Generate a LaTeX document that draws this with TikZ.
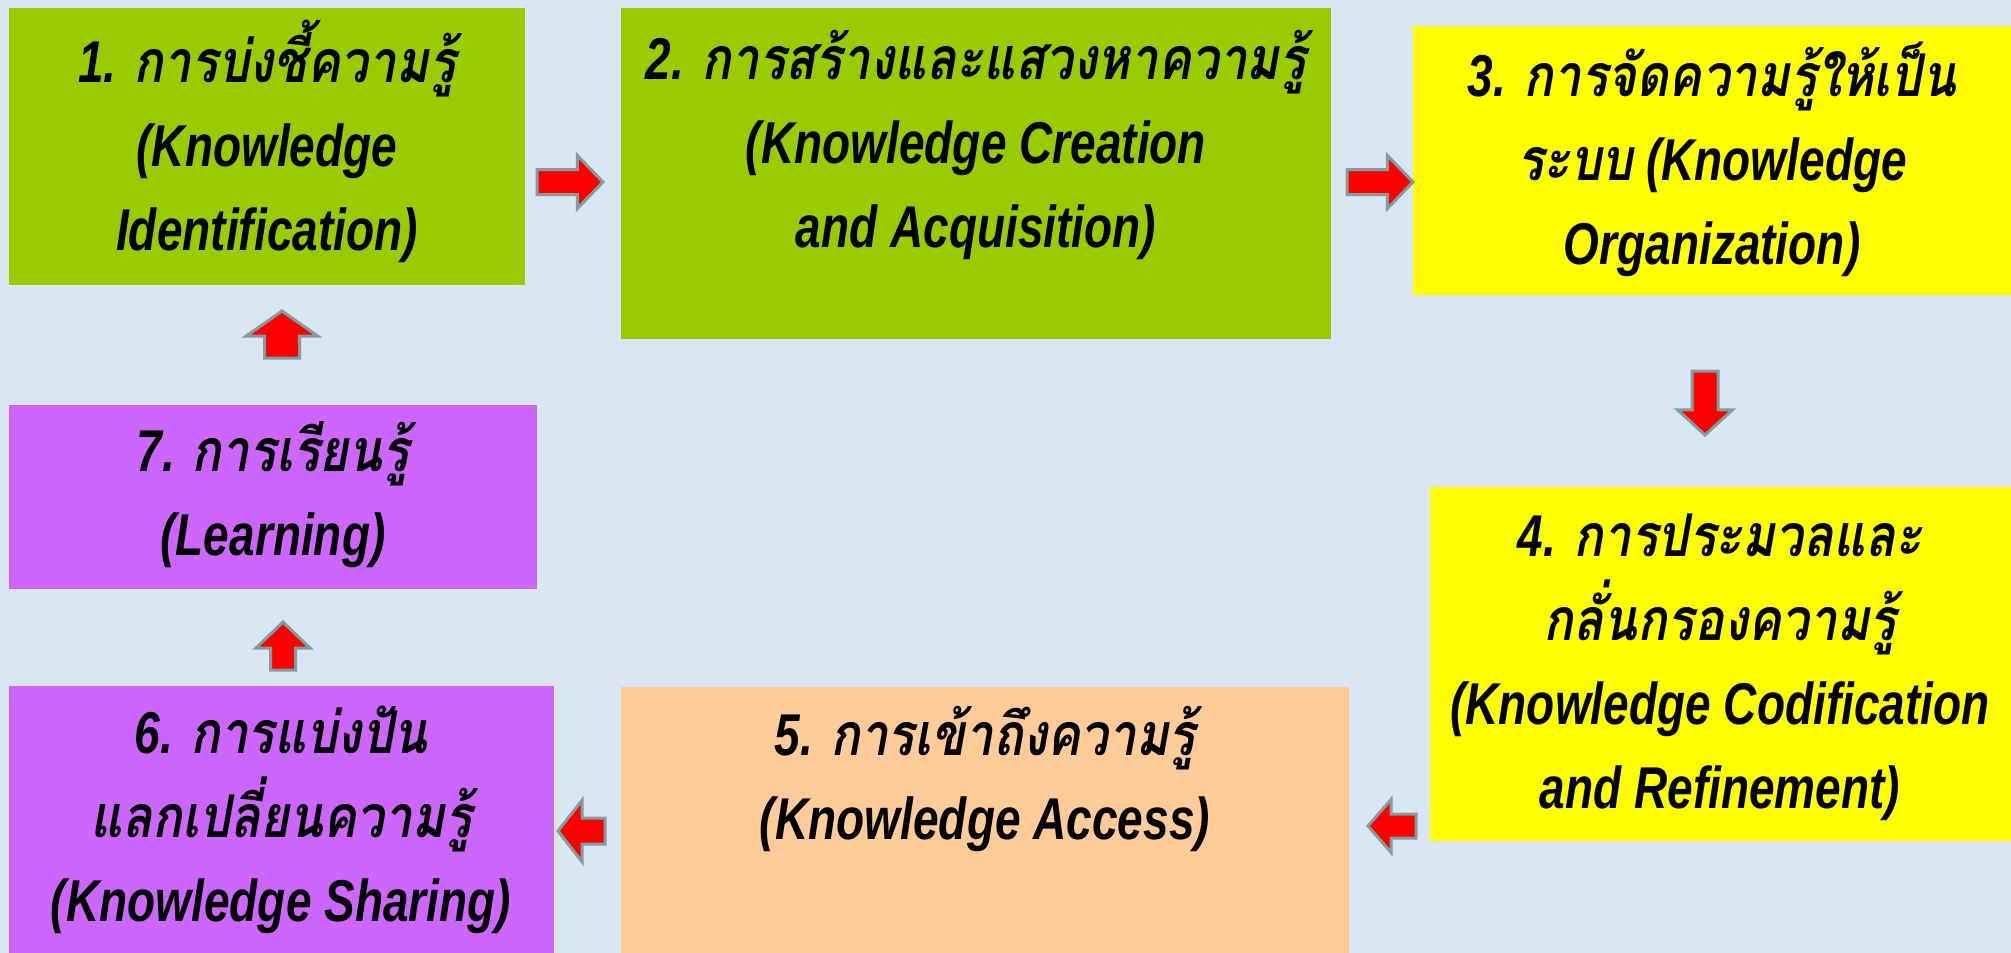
\documentclass[tikz,border=0pt]{standalone}
\usepackage{fontspec}
\setmainfont{Liberation Sans}[FakeStretch=0.78]
\newfontfamily\thf{Loma}[Script=Thai, FakeStretch=0.84]
\usetikzlibrary{shapes.arrows}
\definecolor{bgblue}{RGB}{218,230,244}
\definecolor{kgreen}{RGB}{153,204,0}
\definecolor{kyellow}{RGB}{255,255,0}
\definecolor{kpeach}{RGB}{255,204,153}
\definecolor{kpurple}{RGB}{204,102,255}
\definecolor{arrline}{RGB}{128,158,158}
\begin{document}
\begin{tikzpicture}[x=1pt,y=-1pt,
  box/.style={rectangle, draw=none, inner sep=0pt, outer sep=0pt, anchor=north west},
  lbl/.style={align=center, inner sep=0pt, font=\bfseries\itshape\fontsize{59}{84}\selectfont},
  barr/.style={single arrow, fill=red, draw=arrline, line width=3pt, inner xsep=0pt,
    single arrow head indent=0pt, outer sep=0pt, anchor=tip}
]
\useasboundingbox (0,0) rectangle (2011,953);
\fill[bgblue] (0,0) rectangle (2011,953);

% boxes
\node[box, fill=kgreen,  minimum width=516, minimum height=277] (b1) at (9,8) {};
\node[box, fill=kgreen,  minimum width=710, minimum height=331] (b2) at (621,8) {};
\node[box, fill=kyellow, minimum width=598, minimum height=269] (b3) at (1413,26) {};
\node[box, fill=kyellow, minimum width=581, minimum height=354] (b4) at (1430,487) {};
\node[box, fill=kpeach,  minimum width=728, minimum height=266] (b5) at (621,687) {};
\node[box, fill=kpurple, minimum width=545, minimum height=267] (b6) at (9,686) {};
\node[box, fill=kpurple, minimum width=528, minimum height=184] (b7) at (9,405) {};

% labels
\node[lbl] (t1) at (267,141) {1. {\thf การบ่งชี้ความรู้}\\(Knowledge\\Identification)};
\node[lbl] (t2) at (976,145) {2. {\thf การสร้างและแสวงหาความรู้}\\(Knowledge Creation\\and Acquisition)};
\node[lbl] (t3) at (1712,159) {3. {\thf การจัดความรู้ให้เป็น}\\{\thf ระบบ} (Knowledge\\Organization)};
\node[lbl] (t4) at (1720,667) {4. {\thf การประมวลและ}\\{\thf กลั่นกรองความรู้}\\(Knowledge Codification\\and Refinement)};
\node[lbl] (t5) at (985,779) {5. {\thf การเข้าถึงความรู้}\\(Knowledge Access)};
\node[lbl] (t6) at (281,820) {6. {\thf การแบ่งปัน}\\{\thf แลกเปลี่ยนความรู้}\\(Knowledge Sharing)};
\node[lbl] (t7) at (273,495) {7. {\thf การเรียนรู้}\\(Learning)};

% block arrows
\node[barr, minimum height=66, minimum width=50, inner ysep=11, single arrow head extend=14, single arrow tip angle=92] (a12) at (603,182) {};
\node[barr, minimum height=66, minimum width=50, inner ysep=11, single arrow head extend=14, single arrow tip angle=92] (a23) at (1413,182) {};
\node[barr, rotate=-90, minimum height=64, minimum width=52, inner ysep=11.5, single arrow head extend=14.5, single arrow tip angle=95] (a34) at (1705,435) {};
\node[barr, rotate=180, minimum height=48, minimum width=50, inner ysep=10.5, single arrow head extend=14.5, single arrow tip angle=98] (a45) at (1368,826) {};
\node[barr, rotate=180, minimum height=47, minimum width=59, inner ysep=11.5, single arrow head extend=18, single arrow tip angle=104] (a56) at (558,831) {};
\node[barr, rotate=90, minimum height=48, minimum width=51, inner ysep=11, single arrow head extend=14.5, single arrow tip angle=92] (a67) at (283,622) {};
\node[barr, rotate=90, minimum height=47, minimum width=69, inner ysep=16, single arrow head extend=18.5, single arrow tip angle=110] (a71) at (282,311) {};
\end{tikzpicture}
\end{document}
